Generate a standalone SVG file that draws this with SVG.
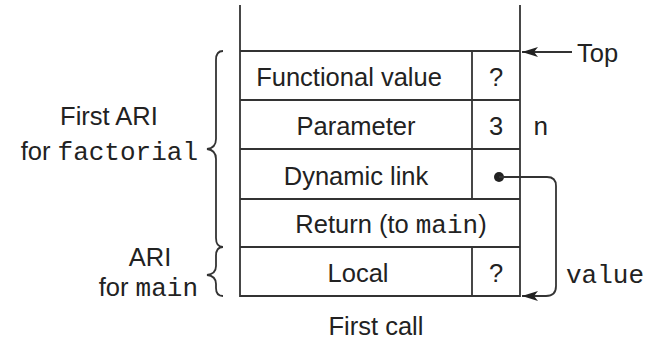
<svg xmlns="http://www.w3.org/2000/svg" width="648" height="345" viewBox="0 0 648 345">
<style>
.ln{stroke:#333;stroke-width:1.8;fill:none}
.t{font-family:"Liberation Sans",Arial,sans-serif;font-size:25.5px;fill:#222}
.m{font-family:"Liberation Mono","Courier New",monospace;font-size:26px;fill:#222}
.c{text-anchor:middle}
.r{text-anchor:end}
</style>
<defs>
<marker id="ah" viewBox="0 0 16 10" refX="16" refY="5" markerWidth="16" markerHeight="10" markerUnits="userSpaceOnUse" orient="auto">
<path d="M0,0 L16,5 L0,10 L4,5 Z" fill="#222"/>
</marker>
</defs>
<rect width="648" height="345" fill="#fff"/>
<g id="stack">
<path class="ln" d="M240,5 V296 H520 V5"/>
<path class="ln" d="M240,51 H520 M240,100 H520 M240,149 H520 M240,199 H520 M240,247 H520"/>
<path class="ln" d="M472,51 V199 M472,247 V296"/>
</g>
<g id="functional-value">
<text class="t c" x="349" y="86">Functional value</text>
<text class="t c" x="496" y="86">?</text>
</g>
<g id="parameter">
<text class="t c" x="356" y="135">Parameter</text>
<text class="t c" x="496" y="135">3</text>
<text class="m" x="533" y="135">n</text>
</g>
<g id="dynamic-link">
<text class="t c" x="356" y="185">Dynamic link</text>
<circle cx="499" cy="177" r="5" fill="#222"/>
</g>
<g id="return">
<text class="t c" x="391" y="233">Return (to <tspan class="m">main</tspan>)</text>
</g>
<g id="local">
<text class="t c" x="358" y="282">Local</text>
<text class="t c" x="496" y="282">?</text>
<text class="m" x="566" y="283">value</text>
</g>
<g id="top-label">
<text class="t" x="577" y="62">Top</text>
</g>
<g id="first-ari">
<path class="ln" d="M223,51 Q216,51 216,60 V139 Q216,148 207,149 Q216,150 216,159 V238 Q216,247 223,247"/>
<text class="t c" x="109" y="125">First ARI</text>
<text class="t r" x="198" y="160">for <tspan class="m">factorial</tspan></text>
</g>
<g id="ari-main">
<path class="ln" d="M223,247 Q216,247 216,256 V266 Q216,274 207,275 Q216,276 216,284 V288 Q216,296 223,296"/>
<text class="t c" x="150" y="266">ARI</text>
<text class="t r" x="198" y="296">for <tspan class="m">main</tspan></text>
</g>
<g id="caption">
<text class="t c" x="376" y="335">First call</text>
</g>
<g id="connectors">
<path class="ln" d="M572,52 H522" marker-end="url(#ah)"/>
<path class="ln" d="M499,177 H547 Q556,177 556,186 V286 Q556,296 546,296 H522" marker-end="url(#ah)"/>
</g>
</svg>
